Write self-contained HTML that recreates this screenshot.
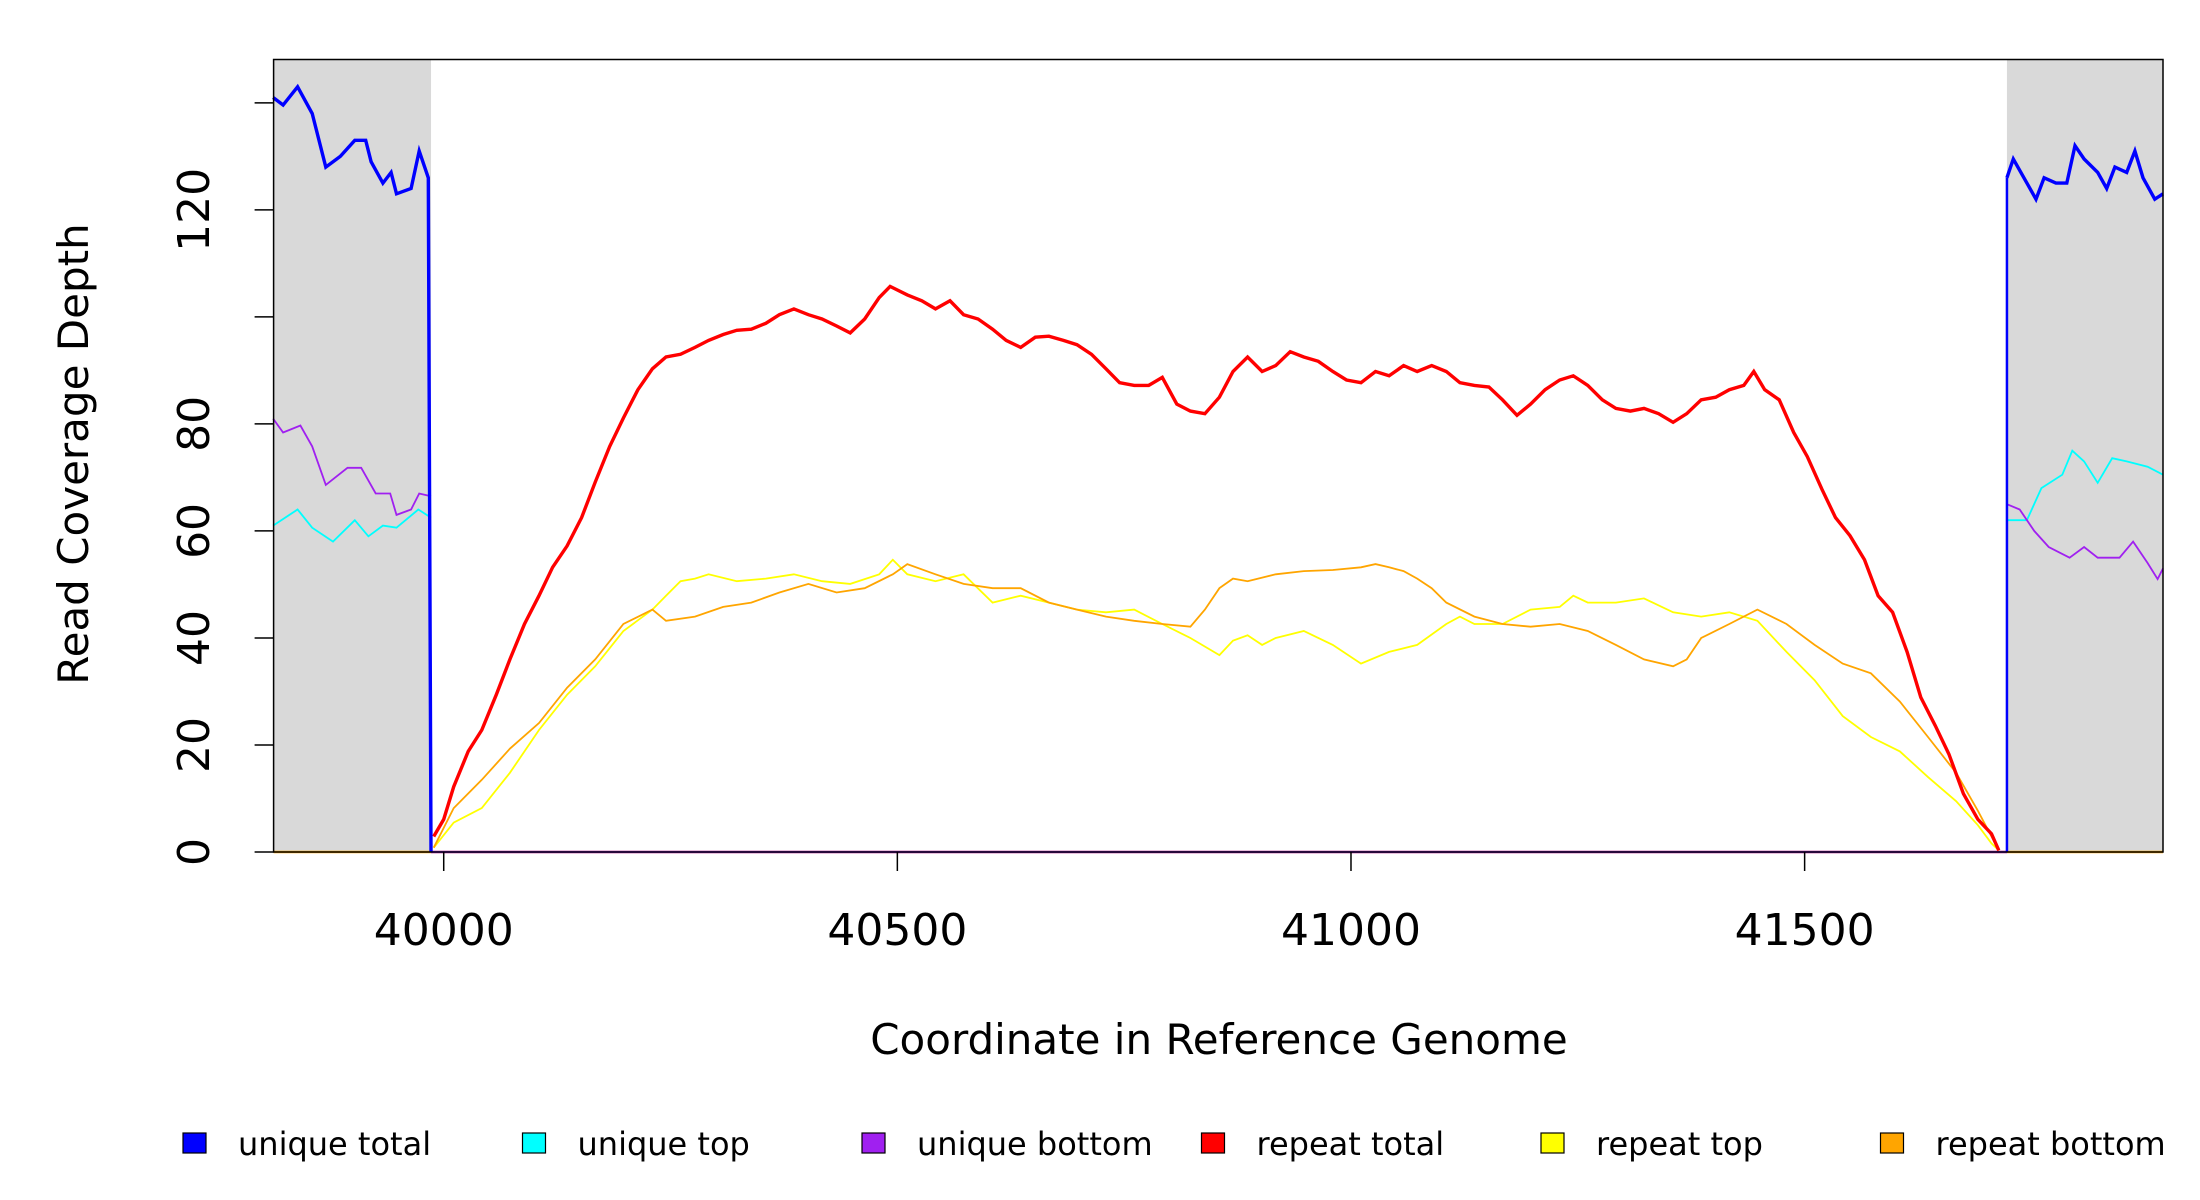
<!DOCTYPE html>
<html><head><meta charset="utf-8"><style>
html,body{margin:0;padding:0;background:#fff;}
svg{display:block;font-family:"DejaVu Sans","Liberation Sans",sans-serif;}
</style></head><body>
<svg id="chart" width="2200" height="1200" viewBox="0 0 2200 1200">
<g id="plot"></g>
<g id="axes"></g>
<text x="88" y="454" font-size="42" text-anchor="middle" transform="rotate(-90 88 454)">Read Coverage Depth</text>
<text x="1219" y="1054" font-size="42" text-anchor="middle">Coordinate in Reference Genome</text>
<g id="legend"></g>
</svg>
<script>
const xTicks=[40000,40500,41000,41500];
const yTicks=[0,20,40,60,80,100,120,140];
const yTickLabels=["0","20","40","60","80","","120",""];
const legendLabels=["unique total","unique top","unique bottom","repeat total","repeat top","repeat bottom"];
const legendColors=["#0000ff","#00ffff","#a020f0","#ff0000","#ffff00","#ffa500"];
const shadeRegions=[[39812.5,39986],[41723,41895]];

const blueLX=[39812,39823,39839,39855,39870,39886,39902,39914,39920,39933,39942,39948,39964,39973,39983,39986];
const blueLY=[141,139.6,143,138,128,130,133,133,129,125,127,123,124,131,126,0];
const blueRX=[41723,41730,41745,41755,41764,41777,41789,41798,41808,41823,41833,41842,41855,41864,41873,41886,41895];
const blueRY=[126,129.5,125,122,126,125,125,132,129.5,127,124,128,127,131,126,122,123];
const cyanLX=[39812,39839,39855,39878,39902,39917,39933,39948,39972,39986];
const cyanLY=[61,64,60.6,58,62,59,61,60.6,64,62.5];
const cyanRX=[41723,41745,41761,41784,41795,41808,41823,41839,41855,41878,41895];
const cyanRY=[62,62,68,70.5,75,73,69,73.6,73,72,70.5];
const purpLX=[39812,39823,39842,39855,39870,39894,39909,39925,39941,39948,39964,39973,39986];
const purpLY=[81,78.4,79.7,75.8,68.6,71.8,71.8,67,67,63,64,67,66.5];
const purpRX=[41723,41737,41753,41769,41792,41808,41823,41847,41862,41878,41889,41895];
const purpRY=[65,64,60,57,55,57,55,55,58,54,51,53];

const redX=[39989,40000,40011,40027,40042,40058,40073,40089,40105,40120,40136,40152,40167,40183,40198,40214,40230,40245,40261,40277,40292,40308,40323,40339,40355,40370,40386,40402,40417,40433,40448,40464,40480,40492,40511,40527,40542,40558,40573,40589,40605,40620,40636,40652,40667,40683,40698,40714,40730,40745,40761,40777,40792,40808,40823,40839,40855,40870,40886,40902,40917,40933,40948,40964,40980,40995,41011,41027,41042,41058,41073,41089,41105,41120,41136,41152,41167,41183,41198,41214,41230,41245,41261,41277,41292,41308,41323,41339,41355,41370,41386,41402,41417,41433,41444,41456,41472,41488,41503,41519,41534,41550,41566,41581,41597,41613,41628,41644,41659,41675,41691,41706,41714];
const redY=[2.9,6.1,12.2,18.8,22.8,29.4,36.0,42.6,47.9,53.2,57.2,62.5,69.1,75.8,81.1,86.4,90.3,92.5,93.0,94.3,95.6,96.7,97.5,97.7,98.8,100.4,101.5,100.4,99.6,98.3,97.0,99.6,103.6,105.7,104.1,103.0,101.5,103.0,100.4,99.6,97.7,95.6,94.3,96.2,96.4,95.6,94.8,93.0,90.3,87.7,87.2,87.2,88.7,83.7,82.4,81.9,85.0,89.8,92.5,89.8,90.9,93.5,92.5,91.7,89.8,88.2,87.7,89.8,89.0,90.9,89.8,90.9,89.8,87.7,87.2,86.9,84.5,81.6,83.7,86.4,88.2,89.0,87.2,84.5,82.9,82.4,82.9,81.9,80.3,81.9,84.5,85.0,86.4,87.2,89.8,86.4,84.5,78.4,73.9,67.8,62.5,59.1,54.6,47.9,44.8,37.4,28.9,23.6,18.3,10.9,6.1,3.4,0.3];
const yelX=[39989,40011,40042,40073,40105,40136,40167,40198,40230,40245,40261,40277,40292,40323,40355,40386,40417,40448,40480,40495,40511,40542,40573,40605,40636,40667,40698,40730,40761,40792,40823,40855,40870,40886,40902,40917,40948,40980,41011,41042,41073,41105,41120,41136,41167,41198,41230,41245,41261,41292,41323,41355,41386,41417,41448,41480,41511,41542,41573,41605,41636,41667,41691,41706,41714];
const yelY=[0.8,5.5,8.2,14.8,22.8,29.4,34.7,41.3,45.3,47.9,50.6,51.1,51.9,50.6,51.1,51.9,50.6,50.1,51.9,54.6,51.9,50.6,51.9,46.6,47.9,46.6,45.3,44.8,45.3,42.6,40.0,36.8,39.5,40.5,38.7,40.0,41.3,38.7,35.2,37.4,38.7,42.6,44.0,42.6,42.6,45.3,45.8,47.9,46.6,46.6,47.4,44.8,44.0,44.8,43.2,37.4,32.1,25.4,21.5,18.8,14.0,9.5,5.0,1.6,0.3];
const orgX=[39989,40011,40042,40073,40105,40136,40167,40198,40230,40245,40277,40308,40339,40370,40402,40433,40464,40495,40511,40542,40573,40605,40636,40667,40698,40730,40761,40792,40823,40839,40855,40870,40886,40917,40948,40980,41011,41027,41042,41058,41073,41089,41105,41136,41167,41198,41230,41261,41292,41323,41355,41370,41386,41417,41448,41480,41511,41542,41573,41605,41636,41667,41691,41706,41714];
const orgY=[0.8,8.2,13.5,19.3,24.1,30.7,36.0,42.6,45.3,43.2,44.0,45.8,46.6,48.5,50.1,48.5,49.3,51.9,53.8,51.9,50.1,49.3,49.3,46.6,45.3,44.0,43.2,42.6,42.1,45.3,49.3,51.1,50.6,51.9,52.5,52.7,53.2,53.8,53.2,52.5,51.1,49.3,46.6,44.0,42.6,42.1,42.6,41.3,38.7,36.0,34.7,36.0,40.0,42.6,45.3,42.6,38.7,35.2,33.4,28.1,21.5,14.8,7.7,2.9,0.3];

const NS="http://www.w3.org/2000/svg";
const L=273.6,R=2163,T=59.5,B=852,X0=39812.5,X1=41895,YMAX=148.1;
const X=c=>L+(c-X0)*(R-L)/(X1-X0);
const Y=v=>B-v*(B-T)/YMAX;
const plot=document.getElementById('plot'),axes=document.getElementById('axes'),legend=document.getElementById('legend');
function mk(tag,attrs,parent){const e=document.createElementNS(NS,tag);for(const k in attrs)e.setAttribute(k,attrs[k]);parent.appendChild(e);return e;}

shadeRegions.forEach((r,i)=>{
  const e=mk('rect',{x:X(r[0]),y:T,width:X(r[1])-X(r[0]),height:B-T,fill:'#d9d9d9'},plot);
  
  
});
function linePath(xs,ys){let d='M'+X(xs[0]).toFixed(1)+','+Y(ys[0]).toFixed(1);for(let i=1;i<xs.length;i++){d+='L'+X(xs[i]).toFixed(1)+','+Y(ys[i]).toFixed(1);}return d;}
function series(xs,ys,color,w,name){
  const e=mk('path',{d:linePath(xs,ys),fill:'none',stroke:color,'stroke-width':w,'stroke-linejoin':'miter'},plot);
  
  
}
const zb=mk('line',{x1:X(X0),x2:X(X1),y1:Y(0),y2:Y(0),stroke:'#ffa500','stroke-width':2.5},plot);


const zp=mk('line',{x1:X(39986),x2:X(41723),y1:Y(0),y2:Y(0),stroke:'#a020f0','stroke-width':2.5},plot);


series(cyanLX,cyanLY,'#00ffff',1.8,'unique-top-left');
series(cyanRX,cyanRY,'#00ffff',1.8,'unique-top-right');
series(purpLX,purpLY,'#a020f0',1.8,'unique-bottom-left');
series(purpRX,purpRY,'#a020f0',1.8,'unique-bottom-right');
series(yelX,yelY,'#ffff00',1.8,'repeat-top-line');
series(orgX,orgY,'#ffa500',1.8,'repeat-bottom-line');
series(redX,redY,'#ff0000',3.4,'repeat-total-line');
series(blueLX,blueLY,'#0000ff',3.4,'unique-total-left');
const bv=mk('line',{x1:X(41723),x2:X(41723),y1:Y(0),y2:Y(blueRY[0]),stroke:'#0000ff','stroke-width':2.5},plot);


series(blueRX,blueRY,'#0000ff',3.4,'unique-total-right');

const frame=mk('rect',{x:L,y:T,width:R-L,height:B-T,fill:'none',stroke:'#000','stroke-width':1.5},axes);


xTicks.forEach(t=>{
  const l=mk('line',{x1:X(t),x2:X(t),y1:B,y2:B+19,stroke:'#000','stroke-width':1.5},axes);
  
  
  const s=mk('text',{x:X(t),y:945,'font-size':44,'text-anchor':'middle'},axes);s.textContent=t;
  
  
});
yTicks.forEach((t,i)=>{
  const l=mk('line',{x1:L-19,x2:L,y1:Y(t),y2:Y(t),stroke:'#000','stroke-width':1.5},axes);
  
  
  if(yTickLabels[i]){
    const s=mk('text',{x:209,y:Y(t),'font-size':44,'text-anchor':'middle',transform:'rotate(-90 209 '+Y(t)+')'},axes);s.textContent=yTickLabels[i];
    
    
  }
});
legendLabels.forEach((lab,i)=>{
  const x0=183+i*339.5;
  const r=mk('rect',{x:x0,y:1133,width:23,height:20,fill:legendColors[i],stroke:'#000','stroke-width':1.2},legend);
  
  
  const s=mk('text',{x:x0+55,y:1155,'font-size':32},legend);s.textContent=lab;
  
  
});
</script>
</body></html>
